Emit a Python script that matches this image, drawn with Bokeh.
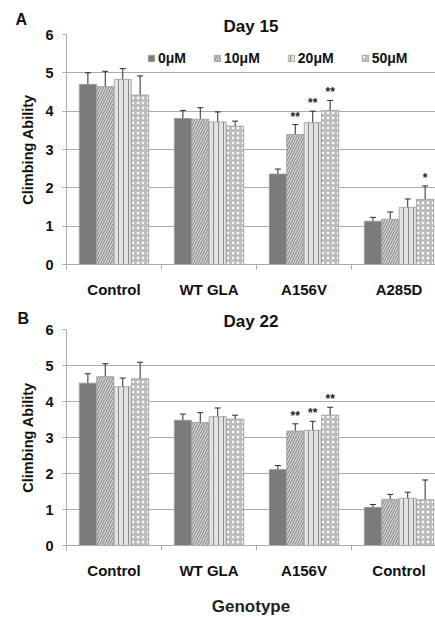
from bokeh.plotting import figure
from bokeh.models import (ColumnDataSource, Range1d, FixedTicker, Whisker, TeeHead,
                          Legend, LegendItem, Title)
from bokeh.layouts import column
from bokeh.embed import file_html
from bokeh.resources import INLINE
from bokeh.core.properties import value

# ---------------- data ----------------
doses = ["0μM", "10μM", "20μM", "50μM"]

genotypes_15 = ["Control", "WT GLA", "A156V", "A285D"]
day15_0 = [4.70, 3.81, 2.36, 1.13]
day15_10 = [4.64, 3.79, 3.39, 1.18]
day15_20 = [4.83, 3.72, 3.70, 1.49]
day15_50 = [4.42, 3.61, 4.02, 1.70]
err15_0 = [0.30, 0.21, 0.13, 0.10]
err15_10 = [0.40, 0.30, 0.26, 0.19]
err15_20 = [0.28, 0.26, 0.30, 0.22]
err15_50 = [0.50, 0.13, 0.26, 0.35]
star15_0 = ["", "", "", ""]
star15_10 = ["", "", "**", ""]
star15_20 = ["", "", "**", ""]
star15_50 = ["", "", "**", "*"]

genotypes_22 = ["Control", "WT GLA", "A156V", "Control"]
day22_0 = [4.51, 3.48, 2.11, 1.06]
day22_10 = [4.69, 3.42, 3.18, 1.28]
day22_20 = [4.41, 3.58, 3.20, 1.31]
day22_50 = [4.63, 3.51, 3.62, 1.27]
err22_0 = [0.26, 0.17, 0.11, 0.08]
err22_10 = [0.36, 0.27, 0.20, 0.14]
err22_20 = [0.24, 0.24, 0.25, 0.17]
err22_50 = [0.46, 0.11, 0.22, 0.55]
star22_0 = ["", "", "", ""]
star22_10 = ["", "", "**", ""]
star22_20 = ["", "", "**", ""]
star22_50 = ["", "", "**", ""]

y_ticks = [0, 1, 2, 3, 4, 5, 6]

# ---------------- style ----------------
FONT = "Liberation Sans"
GRID = "#ababab"
STYLES = [
    dict(fill_color="#7b7b7b", hatch_pattern=None, hatch_color=None),
    dict(fill_color="#d6d6d6", hatch_pattern="/", hatch_color="#7e7e7e"),
    dict(fill_color="#e2e2e2", hatch_pattern="|", hatch_color="#8a8a8a"),
    dict(fill_color="#bdbdbd", hatch_pattern=".", hatch_color="#ffffff"),
]
OFFSETS = [-0.275, -0.092, 0.092, 0.275]
BAR_W = 0.18
FIG_W = 435
LEFT = 66
FRAME_W = FIG_W - LEFT
CAT_PX = 95.0


def make_panel(title, letter, letter_dx, letter_standoff, title_standoff,
               genotypes, means, errs, stars, height, top, bottom, legend, xlabel):
    n = len(genotypes)
    p = figure(width=FIG_W, height=height, output_backend="svg", toolbar_location=None,
               x_range=Range1d(0, FRAME_W / CAT_PX), y_range=Range1d(0, 6),
               min_border_left=LEFT, min_border_right=0,
               min_border_top=top, min_border_bottom=bottom)
    p.outline_line_color = None
    p.xgrid.grid_line_color = None
    p.ygrid.grid_line_color = GRID
    p.ygrid.ticker = FixedTicker(ticks=y_ticks)

    # outer title: panel letter (left aligned, shifted left of the frame)
    p.title.text = letter
    p.title.align = "left"
    p.title.offset = letter_dx
    p.title.text_font = FONT
    p.title.text_font_size = "16px"
    p.title.text_font_style = "bold"
    p.title.text_color = "#111111"
    p.title.standoff = letter_standoff

    # inner title: panel heading
    t = Title(text=title, align="center", text_font=FONT, text_font_size="17px",
              text_font_style="bold", text_color="#111111", standoff=title_standoff)
    p.add_layout(t, "above")

    yax = p.yaxis[0]
    yax.ticker = FixedTicker(ticks=y_ticks)
    yax.axis_line_color = GRID
    yax.major_tick_line_color = GRID
    yax.major_tick_out = 4
    yax.major_tick_in = 0
    yax.minor_tick_line_color = None
    yax.major_label_text_font = FONT
    yax.major_label_text_font_size = "14.5px"
    yax.major_label_text_font_style = "bold"
    yax.major_label_text_color = "#111111"
    yax.major_label_standoff = 9
    yax.axis_label = "Climbing Ability"
    yax.axis_label_text_font = FONT
    yax.axis_label_text_font_size = "14.5px"
    yax.axis_label_text_font_style = "bold"
    yax.axis_label_text_color = "#111111"
    yax.axis_label_standoff = 6

    centers = [i + 0.5 for i in range(n)]
    xax = p.xaxis[0]
    xax.ticker = FixedTicker(ticks=centers, minor_ticks=list(range(n + 1)))
    xax.major_label_overrides = {c: g for c, g in zip(centers, genotypes)}
    xax.axis_line_color = GRID
    xax.major_tick_line_color = None
    xax.major_tick_out = 0
    xax.major_tick_in = 0
    xax.minor_tick_line_color = GRID
    xax.minor_tick_out = 5
    xax.minor_tick_in = 0
    xax.major_label_text_font = FONT
    xax.major_label_text_font_size = "15px"
    xax.major_label_text_font_style = "bold"
    xax.major_label_text_color = "#111111"
    xax.major_label_standoff = 11
    if xlabel:
        xax.axis_label = xlabel
        xax.axis_label_text_font = FONT
        xax.axis_label_text_font_size = "17px"
        xax.axis_label_text_font_style = "bold"
        xax.axis_label_text_color = "#222222"
        xax.axis_label_standoff = 15

    items = []
    for k, dose in enumerate(doses):
        xs = [c + OFFSETS[k] for c in centers]
        src = ColumnDataSource(dict(
            x=xs, top=means[k],
            upper=[m + e for m, e in zip(means[k], errs[k])],
            lower=[m - e for m, e in zip(means[k], errs[k])],
            star=stars[k]))
        st = STYLES[k]
        kw = dict(fill_color=st["fill_color"], line_color="#9a9a9a", line_width=0.8)
        if st["hatch_pattern"]:
            kw.update(hatch_pattern=st["hatch_pattern"], hatch_color=st["hatch_color"],
                      hatch_scale=5, hatch_weight=1)
        r = p.vbar(x="x", top="top", bottom=0, width=BAR_W, source=src, **kw)
        items.append(LegendItem(label=dose, renderers=[r]))
        w = Whisker(base="x", upper="upper", lower="lower", source=src,
                    line_color="#2a2a2a", line_width=1,
                    upper_head=TeeHead(size=6, line_color="#2a2a2a", line_width=1),
                    lower_head=TeeHead(size=6, line_color="#2a2a2a", line_width=1))
        p.add_layout(w)
        p.text(x="x", y="upper", text="star", source=src, text_align="center",
               text_baseline="bottom", text_font=value(FONT), text_font_size="12px",
               text_font_style="bold", text_color="#222222", y_offset=-1)

    if legend:
        lg = Legend(items=items, orientation="horizontal", location=(81, 198),
                    border_line_color=None, background_fill_alpha=0,
                    glyph_width=8, glyph_height=8, label_standoff=3,
                    spacing=27, padding=0, margin=0,
                    label_text_font=FONT, label_text_font_size="14px",
                    label_text_font_style="bold", label_text_color="#111111")
        p.add_layout(lg)
    return p


p1 = make_panel("Day 15", "A", -51, -25, -2, genotypes_15,
                [day15_0, day15_10, day15_20, day15_50],
                [err15_0, err15_10, err15_20, err15_50],
                [star15_0, star15_10, star15_20, star15_50],
                304, 34, 40, True, None)
p2 = make_panel("Day 22", "B", -49, -30, -3, genotypes_22,
                [day22_0, day22_10, day22_20, day22_50],
                [err22_0, err22_10, err22_20, err22_50],
                [star22_0, star22_10, star22_20, star22_50],
                314, 25, 60, False, "Genotype")

layout = column(p1, p2, spacing=0)
open("out.html", "w").write(file_html(layout, INLINE))
